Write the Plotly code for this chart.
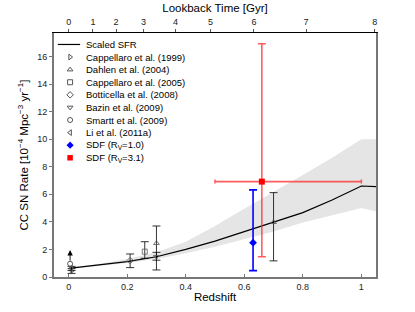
import plotly.graph_objects as go

# ---- data ----
sfr_z = [0.0, 0.1, 0.2, 0.3, 0.4, 0.5, 0.6, 0.7, 0.8, 0.9, 1.0, 1.05]
sfr_rate = [0.62, 0.85, 1.12, 1.47, 2.0, 2.6, 3.28, 3.94, 4.67, 5.59, 6.6, 6.55]
band_hi = [0.66, 0.95, 1.3, 1.8, 2.55, 3.7, 4.95, 6.15, 7.4, 8.65, 10.0, 10.0]
band_lo = [0.58, 0.79, 1.02, 1.3, 1.72, 2.2, 2.75, 3.3, 3.95, 4.45, 5.0, 4.75]

capp99_z, capp99_r, capp99_e = [0.01], [0.43], [0.17]
dahlen_z, dahlen_r = [0.3, 0.7], [2.45, 3.97]
dahlen_up, dahlen_dn = [1.25, 2.15], [1.94, 2.8]
capp05_z, capp05_r, capp05_up, capp05_dn = [0.26], [1.84], [0.72], [0.48]
bott_z, bott_r, bott_up, bott_dn = [0.21], [1.19], [0.48], [0.51]
bazin_z, bazin_r, bazin_up, bazin_dn = [0.3], [1.47], [0.32], [0.25]
smartt_z, smartt_r, smartt_limit = [0.005], [0.96], [1.95]
li_z, li_r, li_e = [0.01], [0.62], [0.15]

sdf1_z, sdf1_r, sdf1_up, sdf1_dn = [0.63], [2.49], [3.83], [2.03]
sdf3_z, sdf3_r, sdf3_up, sdf3_dn = [0.66], [6.92], [10.0], [5.45]
sdf3_zlo, sdf3_zhi = [0.16], [0.34]

lookback_gyr = [0, 1, 2, 3, 4, 5, 6, 7, 8]
lookback_z = [0.0, 0.083, 0.162, 0.256, 0.365, 0.485, 0.633, 0.811, 1.046]

FONT = "Liberation Sans, Arial, Helvetica, sans-serif"
GREY = "#555555"

fig = go.Figure()

# shaded SFR band
fig.add_trace(go.Scatter(x=sfr_z, y=band_lo, mode="lines", line=dict(width=0),
                         hoverinfo="skip", showlegend=False))
fig.add_trace(go.Scatter(x=sfr_z, y=band_hi, mode="lines", line=dict(width=0),
                         fill="tonexty", fillcolor="#e5e5e5", showlegend=False))
fig.add_trace(go.Scatter(x=sfr_z, y=sfr_rate, mode="lines",
                         line=dict(color="black", width=1.2), showlegend=False))


def lit(x, y, up, dn, symbol):
    fig.add_trace(go.Scatter(
        x=x, y=y, mode="markers", showlegend=False,
        marker=dict(symbol=symbol, size=5, color=GREY, line=dict(color=GREY, width=0.8)),
        error_y=dict(type="data", symmetric=False, array=up, arrayminus=dn,
                     color="black", thickness=0.8, width=4)))


lit(capp99_z, capp99_r, capp99_e, capp99_e, "triangle-right-open")
lit(dahlen_z, dahlen_r, dahlen_up, dahlen_dn, "triangle-up-open")
lit(capp05_z, capp05_r, capp05_up, capp05_dn, "square-open")
lit(bott_z, bott_r, bott_up, bott_dn, "diamond-open")
lit(bazin_z, bazin_r, bazin_up, bazin_dn, "triangle-down-open")
lit(li_z, li_r, li_e, li_e, "triangle-left-open")
fig.add_trace(go.Scatter(x=smartt_z, y=smartt_r, mode="markers", showlegend=False,
                         marker=dict(symbol="circle-open", size=5, color=GREY)))
fig.add_annotation(x=smartt_z[0], y=smartt_limit[0], ax=smartt_z[0], ay=smartt_r[0] + 0.12,
                   xref="x", yref="y", axref="x", ayref="y", text="", showarrow=True,
                   arrowhead=2, arrowsize=1.2, arrowwidth=0.9, arrowcolor="black")

# SDF points
fig.add_trace(go.Scatter(
    x=sdf1_z, y=sdf1_r, mode="markers", showlegend=False,
    marker=dict(symbol="diamond", size=6, color="blue"),
    error_y=dict(type="data", symmetric=False, array=sdf1_up, arrayminus=sdf1_dn,
                 color="blue", thickness=1.6, width=4)))
fig.add_trace(go.Scatter(
    x=sdf3_z, y=sdf3_r, mode="markers", showlegend=False,
    marker=dict(symbol="square", size=6, color="red"),
    error_y=dict(type="data", symmetric=False, array=sdf3_up, arrayminus=sdf3_dn,
                 color="rgba(255,40,40,0.75)", thickness=1.6, width=4),
    error_x=dict(type="data", symmetric=False, array=sdf3_zhi, arrayminus=sdf3_zlo,
                 color="rgba(255,40,40,0.75)", thickness=1.6, width=2)))

# dummy trace so the top (lookback) axis is drawn
fig.add_trace(go.Scatter(x=[lookback_z[0]], y=[0], xaxis="x2", mode="markers",
                         marker=dict(opacity=0), hoverinfo="skip", showlegend=False))

# ---- hand-built compact legend (symbols on a paper-sized x3/y3, labels in paper coords) ----
leg_labels = ["Scaled SFR", "Cappellaro et al. (1999)", "Dahlen et al. (2004)",
              "Cappellaro et al. (2005)", "Botticella et al. (2008)", "Bazin et al. (2009)",
              "Smartt et al. (2009)", "Li et al. (2011a)",
              "SDF (R<sub>V</sub>=1.0)", "SDF (R<sub>V</sub>=3.1)"]
leg_symbols = [None, "triangle-right-open", "triangle-up-open", "square-open", "diamond-open",
               "triangle-down-open", "circle-open", "triangle-left-open", "diamond", "square"]
leg_colors = ["black", GREY, GREY, GREY, GREY, GREY, GREY, GREY, "blue", "red"]

row_top, row_step = 0.953, 0.0516
leg_y = [row_top - i * row_step for i in range(len(leg_labels))]
fig.add_trace(go.Scatter(x=[0.012, 0.081], y=[leg_y[0], leg_y[0]], mode="lines",
                         xaxis="x3", yaxis="y3", line=dict(color="black", width=1.2),
                         hoverinfo="skip", showlegend=False))
for i in range(1, len(leg_labels)):
    fig.add_trace(go.Scatter(x=[0.05], y=[leg_y[i]], mode="markers", xaxis="x3", yaxis="y3",
                             marker=dict(symbol=leg_symbols[i], size=5 if i < 8 else 5.5,
                                         color=leg_colors[i]),
                             hoverinfo="skip", showlegend=False))
for i, lab in enumerate(leg_labels):
    fig.add_annotation(x=0.093, y=leg_y[i], xref="paper", yref="paper", text=lab,
                       showarrow=False, xanchor="left", yanchor="middle",
                       font=dict(size=9.5, color="black"))

fig.update_layout(
    width=415, height=312,
    margin=dict(l=54, r=39, t=33, b=35),
    paper_bgcolor="white", plot_bgcolor="rgba(0,0,0,0)",
    font=dict(family=FONT, size=9, color="#222222"),
    showlegend=False,
    xaxis=dict(range=[-0.05, 1.05], tickvals=[0, 0.2, 0.4, 0.6, 0.8, 1],
               ticktext=["0", "0.2", "0.4", "0.6", "0.8", "1"], automargin=False,
               showgrid=False, zeroline=False, showline=True, linecolor="#777777", linewidth=1.5,
               ticks="inside", ticklen=3, tickcolor="#777777",
               title=dict(text="Redshift", font=dict(size=11.5, color="black"), standoff=2)),
    xaxis2=dict(range=[-0.05, 1.05], overlaying="x", side="top", anchor="y", automargin=False,
                tickvals=lookback_z, ticktext=[str(t) for t in lookback_gyr],
                showgrid=False, zeroline=False, showline=True, linecolor="black", linewidth=1,
                ticks="outside", ticklen=3, tickcolor="#555555",
                title=dict(text="Lookback Time [Gyr]", font=dict(size=11.5, color="black"),
                           standoff=2)),
    yaxis=dict(range=[0, 17.7], tickvals=list(range(0, 17, 2)), automargin=False,
               showgrid=False, zeroline=False, showline=True, linecolor="#777777", linewidth=2,
               mirror=True, ticks="outside", ticklen=3, tickcolor="#777777",
               title=dict(text="CC SN Rate [10<sup>\u22124</sup> Mpc<sup>\u22123</sup> yr<sup>\u22121</sup>]",
                          font=dict(size=11.5, color="black"), standoff=6)),
    xaxis3=dict(domain=[0, 1], range=[0, 1], anchor="y3", visible=False),
    yaxis3=dict(domain=[0, 1], range=[0, 1], anchor="x3", visible=False),
)

# the page body has a default 8px margin; drop it so the figure sits at the window origin
fig.write_html("out.html", config={"displayModeBar": False},
               post_script="document.body.style.margin='0';")
